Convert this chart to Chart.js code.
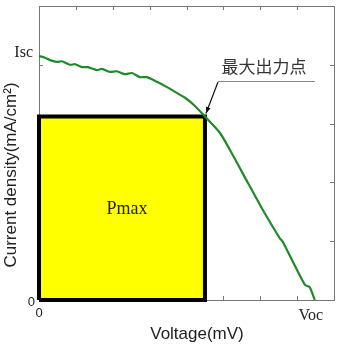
<!DOCTYPE html>
<html>
<head>
<meta charset="utf-8">
<script src="https://cdn.jsdelivr.net/npm/chart.js@4/dist/chart.umd.min.js"></script>
<style>
  html, body { margin: 0; padding: 0; background: #fff; }
  #wrap { width: 337px; height: 350px; }
</style>
</head>
<body>
<div id="wrap"><canvas id="iv-chart" width="337" height="350"></canvas></div>
<script>
'use strict';

// I-V curve (x: voltage, y: current density, arbitrary units)
const voltage = [0, 0.16, 0.30, 0.49, 0.62, 0.84, 0.98, 1.17, 1.33, 1.57, 1.71, 1.92, 2.11, 2.33, 2.52,
    2.74, 2.93, 3.20, 3.47, 3.69, 3.96, 4.23, 4.50, 4.91, 5.18, 5.58, 6.07, 6.53, 6.61, 7.21, 7.34, 7.48];
const current = [4.15, 4.12, 4.08, 4.05, 4.06, 4.00, 4.01, 3.96, 3.96, 3.91, 3.93, 3.88, 3.89, 3.84, 3.86,
    3.79, 3.79, 3.71, 3.62, 3.54, 3.44, 3.30, 3.12, 2.84, 2.55, 2.09, 1.53, 1.05, 0.99, 0.26, 0.22, 0];

// maximum power point
const vmp = 4.5;
const imp = 3.12;

// tick labels
const xTickValues = [0, 7.48];
const xTickLabels = ['0', 'Voc'];
const yTickValues = [0, 4.15];
const yTickLabels = ['0', 'Isc'];

const annotationText = '最大出力点';

let frameAndLabels = {
    id: 'frameAndLabels',
    beforeDatasetsDraw(chart) {
        const ctx = chart.ctx;
        const area = chart.chartArea;
        const xs = chart.scales.x;
        const ys = chart.scales.y;
        ctx.save();
        ctx.strokeStyle = '#777';
        ctx.lineWidth = 1;
        ctx.strokeRect(area.left + 0.5, area.top + 0.5, area.right - area.left, area.bottom - area.top);
        ctx.beginPath();
        // inward ticks
        for (let v = xs.min + 1; v < xs.max; v++) {
            const px = Math.round(xs.getPixelForValue(v)) + 0.5;
            ctx.moveTo(px, area.top);
            ctx.lineTo(px, area.top + 4);
            ctx.moveTo(px, area.bottom);
            ctx.lineTo(px, area.bottom - 4);
        }
        for (let v = ys.min + 1; v < ys.max; v++) {
            const py = Math.round(ys.getPixelForValue(v)) + 0.5;
            ctx.moveTo(area.left, py);
            ctx.lineTo(area.left + 4, py);
            ctx.moveTo(area.right, py);
            ctx.lineTo(area.right - 4, py);
        }
        ctx.stroke();
        ctx.restore();
    },
    afterDraw(chart) {
        const ctx = chart.ctx;
        const xs = chart.scales.x;
        const ys = chart.scales.y;
        ctx.save();
        ctx.fillStyle = '#222';
        ctx.textBaseline = 'middle';

        // x tick labels
        xTickValues.forEach((v, i) => {
            const isNum = xTickLabels[i] === '0';
            ctx.font = isNum ? '13px "Liberation Sans", Arial, sans-serif' : '16px "Liberation Serif", "Times New Roman", serif';
            ctx.textAlign = 'center';
            ctx.fillText(xTickLabels[i], xs.getPixelForValue(v) + (isNum ? 0 : -4), isNum ? 313 : 316);
        });
        // y tick labels
        yTickValues.forEach((v, i) => {
            const isNum = yTickLabels[i] === '0';
            ctx.font = isNum ? '13px "Liberation Sans", Arial, sans-serif' : '16px "Liberation Serif", "Times New Roman", serif';
            ctx.textAlign = 'right';
            ctx.fillText(yTickLabels[i], isNum ? 35 : 33, ys.getPixelForValue(v) + (isNum ? 2 : -3));
        });

        // Pmax
        ctx.font = '18px "Liberation Serif", "Times New Roman", serif';
        ctx.textAlign = 'center';
        ctx.fillText('Pmax', xs.getPixelForValue(vmp / 2) + 5, ys.getPixelForValue(imp / 2) + 1);

        // axis titles
        ctx.font = '17px "Liberation Sans", Arial, sans-serif';
        ctx.fillText('Voltage(mV)', 197, 334);
        ctx.save();
        ctx.translate(11, 175);
        ctx.rotate(-Math.PI / 2);
        ctx.fillText('Current density(mA/cm²)', 0, 0);
        ctx.restore();

        // annotation with arrow to max power point
        const tipX = xs.getPixelForValue(vmp);
        const tipY = ys.getPixelForValue(imp);
        ctx.font = '17px "Noto Sans CJK JP", sans-serif';
        ctx.fillStyle = '#333';
        ctx.fillText(annotationText, 264, 67);
        ctx.strokeStyle = '#888';
        ctx.lineWidth = 1;
        ctx.beginPath();
        ctx.moveTo(218, 81.5);
        ctx.lineTo(315, 81.5);
        ctx.stroke();
        ctx.strokeStyle = '#111';
        ctx.fillStyle = '#111';
        ctx.lineWidth = 1.2;
        ctx.beginPath();
        ctx.moveTo(218, 82);
        ctx.lineTo(tipX + 1, tipY - 3);
        ctx.stroke();
        const ang = Math.atan2((tipY - 3) - 82, (tipX + 1) - 218);
        ctx.beginPath();
        ctx.moveTo(tipX + 1, tipY - 3);
        ctx.lineTo(tipX + 1 - 7 * Math.cos(ang - 0.35), tipY - 3 - 7 * Math.sin(ang - 0.35));
        ctx.lineTo(tipX + 1 - 7 * Math.cos(ang + 0.35), tipY - 3 - 7 * Math.sin(ang + 0.35));
        ctx.closePath();
        ctx.fill();
        ctx.restore();
    }
};

new Chart(document.getElementById('iv-chart'), {
    type: 'scatter',
    data: {
        datasets: [
            {
                label: 'I-V',
                data: voltage.map((v, i) => ({ x: v, y: current[i] })),
                showLine: true,
                borderColor: '#1f8a28',
                borderWidth: 2.2,
                pointRadius: 0,
                tension: 0.2,
                fill: false,
                order: 1
            },
            {
                label: 'Pmax outline',
                data: [{ x: 0, y: 0 }, { x: 0, y: imp }, { x: vmp, y: imp }, { x: vmp, y: 0 }, { x: 0, y: 0 }],
                showLine: true,
                borderColor: '#000',
                borderWidth: 4,
                borderJoinStyle: 'miter',
                pointRadius: 0,
                tension: 0,
                fill: false,
                order: 2
            },
            {
                label: 'Pmax area',
                data: [{ x: 0, y: imp }, { x: vmp, y: imp }],
                showLine: true,
                borderWidth: 0,
                borderColor: 'rgba(0,0,0,0)',
                backgroundColor: '#ffff00',
                pointRadius: 0,
                tension: 0,
                fill: 'origin',
                order: 3
            }
        ]
    },
    options: {
        responsive: false,
        animation: false,
        layout: {
            padding: { left: 39, right: 3, top: 6, bottom: 50 }
        },
        scales: {
            x: { type: 'linear', min: 0, max: 8, display: false },
            y: { type: 'linear', min: 0, max: 5, display: false }
        },
        plugins: {
            legend: { display: false },
            tooltip: { enabled: false }
        },
        clip: false
    },
    plugins: [frameAndLabels]
});
</script>
</body>
</html>
